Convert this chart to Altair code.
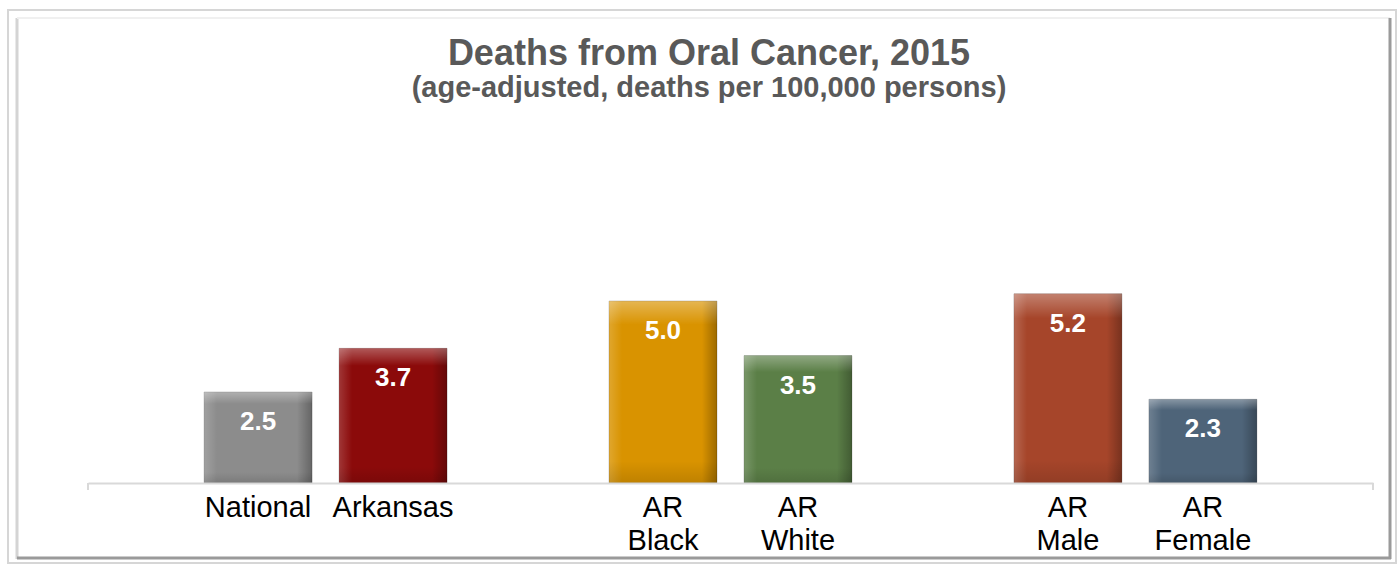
import altair as alt
import pandas as pd

# Categories in display order; "gap" entries leave empty slots between groups
categories = ["National", "Arkansas", "gap1", "AR Black", "AR White", "gap2", "AR Male", "AR Female"]
bar_labels = ["National", "Arkansas", "AR Black", "AR White", "AR Male", "AR Female"]
rates = [2.5, 3.7, 5.0, 3.5, 5.2, 2.3]
bar_colors = ["#8c8c8c", "#8b0a0a", "#d99300", "#5b7f47", "#a6452a", "#4e6479"]

title_text = "Deaths from Oral Cancer, 2015"
subtitle_text = "(age-adjusted, deaths per 100,000 persons)"

df = pd.DataFrame({"group": bar_labels, "rate": rates, "text": [f"{v:.1f}" for v in rates]})

W, H = 1285, 364
FONT = "Liberation Sans"

x = alt.X(
    "group:N",
    scale=alt.Scale(domain=categories, paddingInner=0.2, paddingOuter=0.86),
    axis=alt.Axis(
        title=None,
        labelAngle=0,
        ticks=False,
        domainColor="#d9d9d9",
        domainWidth=2,
        labelFont=FONT,
        labelFontSize=29,
        labelColor="#000000",
        labelPadding=10,
        labelLineHeight=33,
        labelBaseline="top",
        labelExpr="indexof(datum.label, 'gap') == 0 ? '' : split(datum.label, ' ')",
        zindex=1,
    ),
)
y = alt.Y("rate:Q", scale=alt.Scale(domain=[0, 10]), axis=None)

base = alt.Chart(df)

bars = base.mark_bar(stroke="#000000", strokeOpacity=0.18, strokeWidth=1).encode(
    x=x,
    y=y,
    color=alt.Color("group:N", scale=alt.Scale(domain=bar_labels, range=bar_colors), legend=None),
)

# Bevel shading: light left/top edges, darker right/bottom edges
shade_h = base.mark_bar(
    color=alt.Gradient(
        gradient="linear", x1=0, x2=1, y1=0, y2=0,
        stops=[
            alt.GradientStop(color="rgba(255,255,255,0.18)", offset=0),
            alt.GradientStop(color="rgba(255,255,255,0)", offset=0.12),
            alt.GradientStop(color="rgba(0,0,0,0)", offset=0.86),
            alt.GradientStop(color="rgba(0,0,0,0.28)", offset=1),
        ],
    )
).encode(x=x, y=y)

shade_v = base.mark_bar(
    color=alt.Gradient(
        gradient="linear", x1=0, x2=0, y1=0, y2=1,
        stops=[
            alt.GradientStop(color="rgba(255,255,255,0.32)", offset=0),
            alt.GradientStop(color="rgba(255,255,255,0)", offset=0.13),
            alt.GradientStop(color="rgba(0,0,0,0)", offset=0.88),
            alt.GradientStop(color="rgba(0,0,0,0.12)", offset=1),
        ],
    )
).encode(x=x, y=y)

values = base.mark_text(
    font=FONT, fontSize=26, fontWeight="bold", color="white", baseline="alphabetic", dy=38
).encode(x=x, y=y, text="text:N")

one = pd.DataFrame({"k": [0]})

# End ticks of the category axis
tick_left = alt.Chart(one).mark_rule(color="#d9d9d9", strokeWidth=2).encode(
    x=alt.value(0), y=alt.value(H), y2=alt.value(H + 7)
)
tick_right = alt.Chart(one).mark_rule(color="#d9d9d9", strokeWidth=2).encode(
    x=alt.value(W), y=alt.value(H), y2=alt.value(H + 7)
)

# Framed panel with a soft shadow on the right and bottom
frame = alt.Chart(one).mark_rect(
    fill=None, stroke="#d6d6d6", strokeWidth=2
).encode(x=alt.value(-80), x2=alt.value(1308), y=alt.value(-109), y2=alt.value(444))
shadow_left = alt.Chart(one).mark_rule(color="#d4d4d4", strokeWidth=3).encode(
    x=alt.value(-71), y=alt.value(-101), y2=alt.value(440)
)
shadow_top = alt.Chart(one).mark_rule(color="#f0f0f0", strokeWidth=2).encode(
    x=alt.value(-71), x2=alt.value(1302), y=alt.value(-101)
)
shadow_right = alt.Chart(one).mark_rule(color="#9a9a9a", strokeWidth=3).encode(
    x=alt.value(1302), y=alt.value(-101), y2=alt.value(440)
)
shadow_bottom = alt.Chart(one).mark_rule(color="#9a9a9a", strokeWidth=3).encode(
    x=alt.value(-71), x2=alt.value(1303), y=alt.value(439)
)

# Heading lines, centred on the framed panel
title_mark = alt.Chart(pd.DataFrame({"t": [title_text]})).mark_text(
    font=FONT, fontSize=36, fontWeight="bold", color="#595959", align="center", baseline="alphabetic"
).encode(x=alt.value(621), y=alt.value(-54), text="t:N")
subtitle_mark = alt.Chart(pd.DataFrame({"t": [subtitle_text]})).mark_text(
    font=FONT, fontSize=29, fontWeight="bold", color="#595959", align="center", baseline="alphabetic"
).encode(x=alt.value(621), y=alt.value(-22), text="t:N")

chart = alt.layer(
    frame, shadow_left, shadow_top, shadow_right, shadow_bottom,
    title_mark, subtitle_mark,
    bars, shade_h, shade_v, values, tick_left, tick_right,
).properties(
    width=W,
    height=H,
    background="white",
    autosize=alt.AutoSizeParams(type="none"),
    padding={"left": 88, "top": 119, "right": 26, "bottom": 84},
).configure_view(strokeWidth=0, stroke="transparent")

chart.save("out.html", embed_options={"renderer": "svg", "actions": False})
